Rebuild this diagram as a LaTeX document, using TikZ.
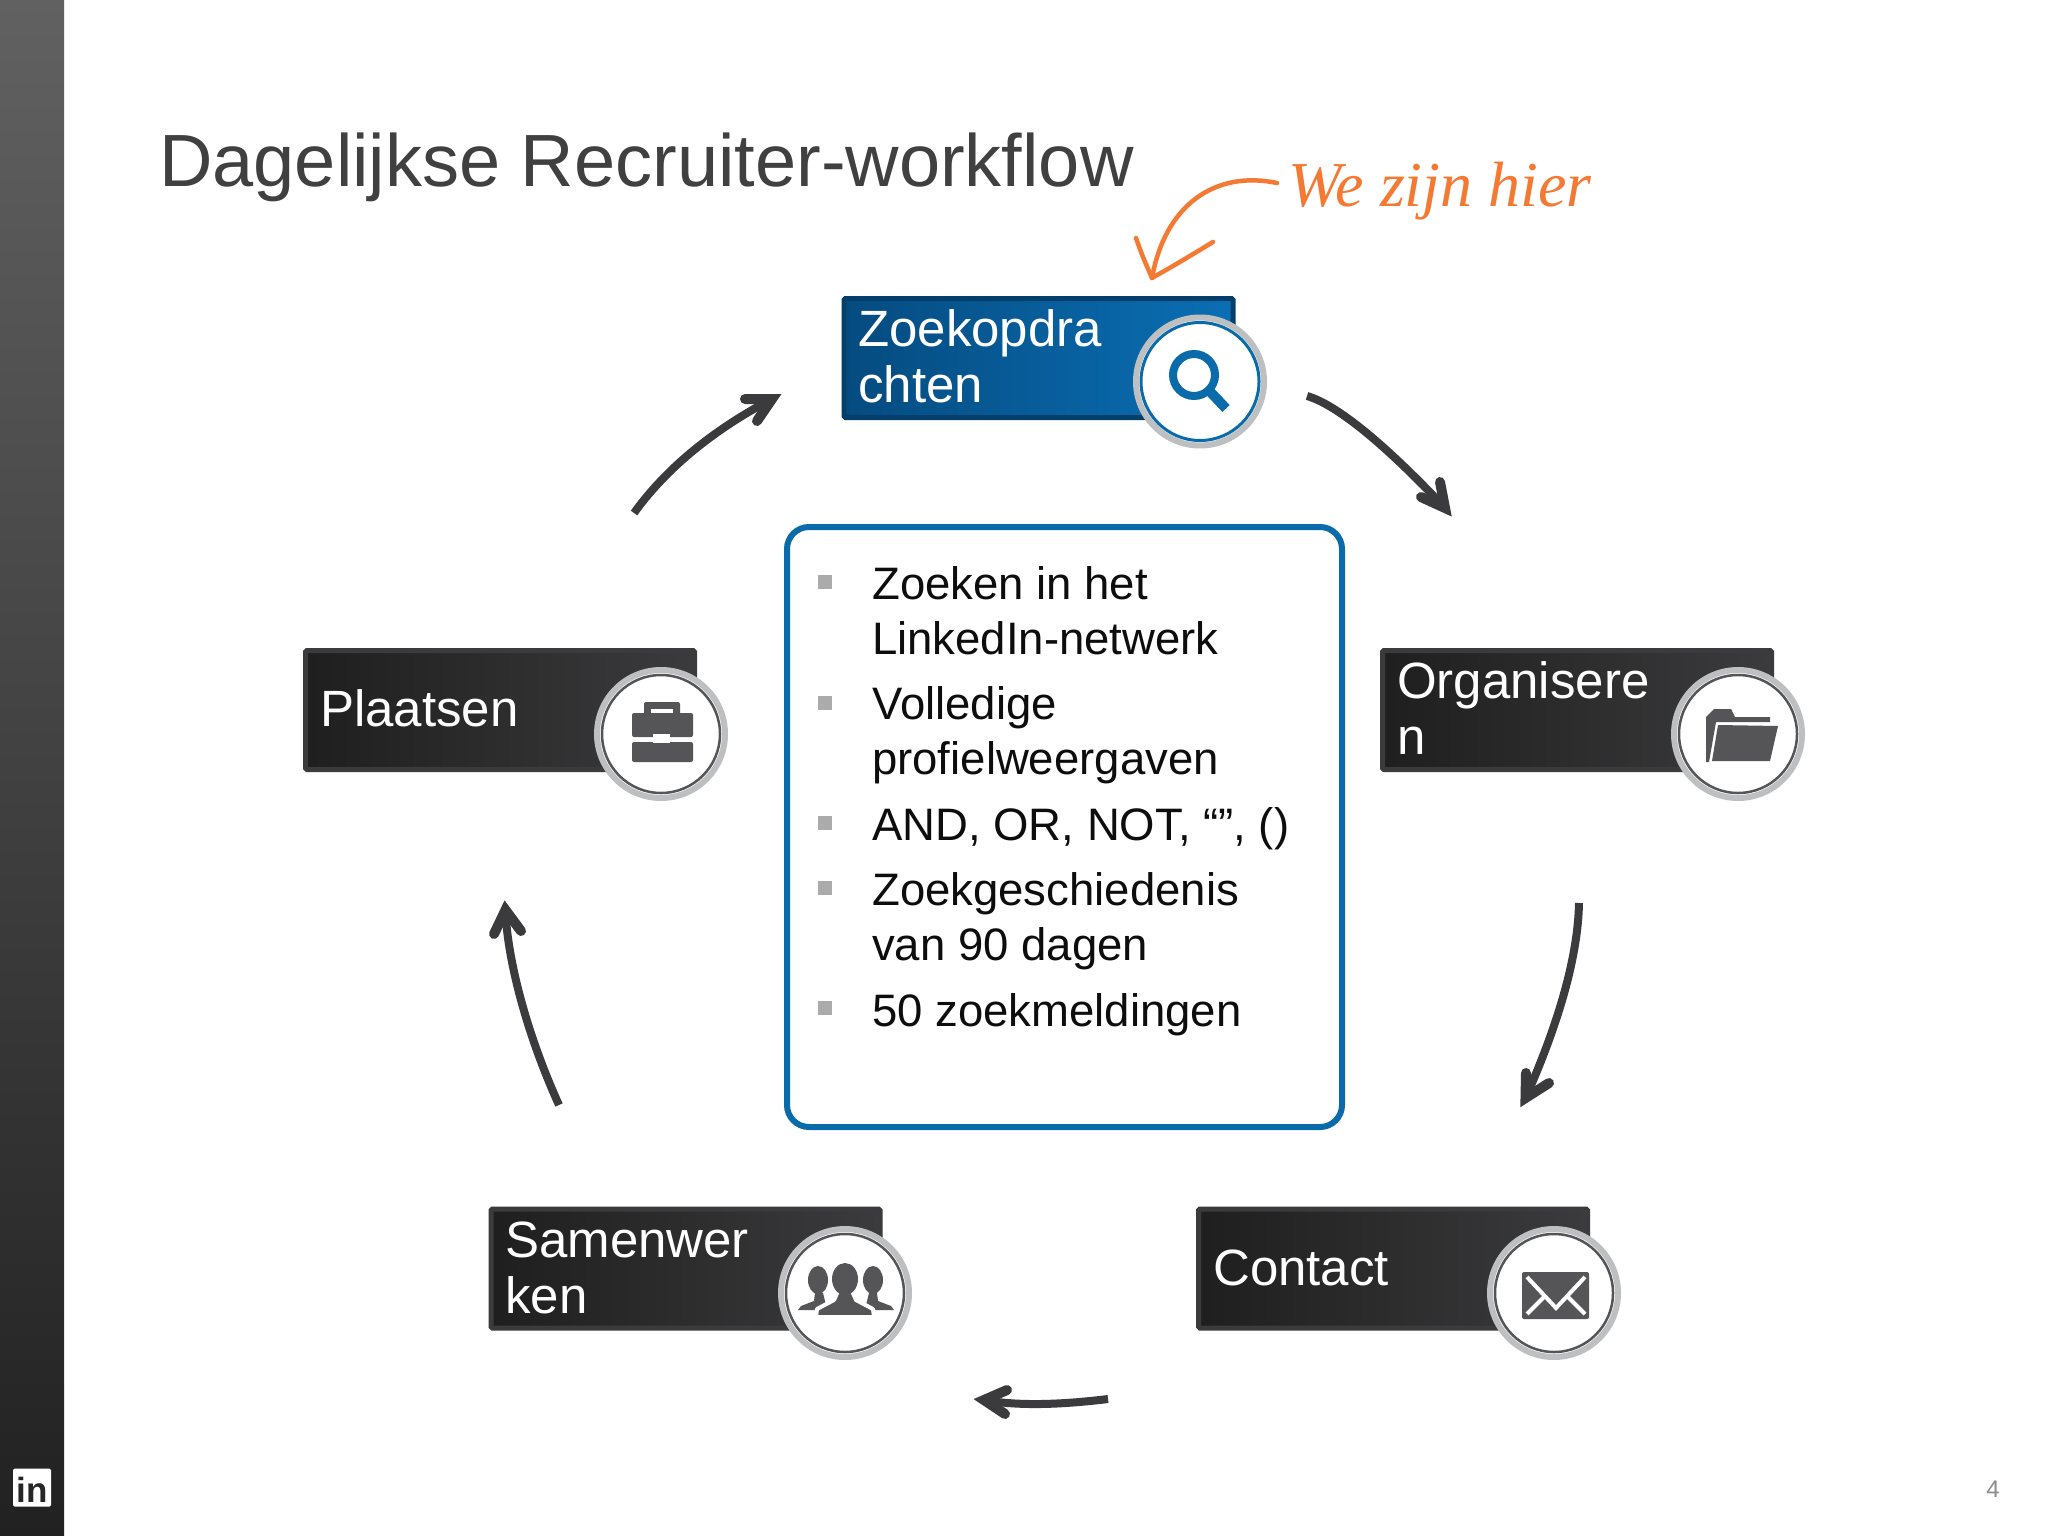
\documentclass[tikz,border=0pt]{standalone}
\usepackage{fontspec}
\setmainfont{Liberation Sans}
\newfontfamily\serifhand{Liberation Serif}
\definecolor{ink}{HTML}{3B3B3D}
\definecolor{titlegrey}{HTML}{404040}
\definecolor{iconGrey}{HTML}{555557}
\definecolor{ringGrey}{HTML}{BDBFC1}
\definecolor{liBlue}{HTML}{0A6BAA}
\definecolor{hand}{HTML}{F47A33}
\definecolor{blueEdge}{HTML}{043F6B}
\definecolor{blueLeft}{HTML}{054B80}
\definecolor{blueRight}{HTML}{0A6FB4}
\tikzset{
  darkbox/.style={rectangle,draw=ink,line width=5,rounded corners=1.5,left color=black!88,right color=ink,minimum width=389,minimum height=119,inner sep=0},
  bluebox/.style={darkbox,draw=blueEdge,left color=blueLeft,right color=blueRight},
  boxlabel/.style={anchor=base west,inner sep=0,text=white,align=left,font=\fontsize{51}{56}\selectfont},
  badge/.style={circle,draw=ringGrey,fill=white,line width=6,minimum size=128,inner sep=0},
  innerring/.style={draw=iconGrey,line width=2.5},
  itemtext/.style={anchor=base west,inner sep=0,text=black!95,align=left,font=\fontsize{45.5}{55}\selectfont},
  bulletmark/.style={rectangle,fill=black!33,minimum size=14,inner sep=0},
  flowline/.style={draw=ink,line width=8},
  flowhead/.style={draw=ink,line width=10,line cap=round,line join=miter,miter limit=10},
  handline/.style={draw=hand,line width=4.5,line cap=round,line join=round},
}
\begin{document}
\begin{tikzpicture}[x=1pt,y=-1pt]
\useasboundingbox (0,0) rectangle (2048,1536);
\fill[white] (0,0) rectangle (2048,1536);
% sidebar
\path[top color=black!62,middle color=black!82,bottom color=black!87] (0,0) rectangle (64,1536);
\node[rectangle,fill=white,rounded corners=1.5,minimum size=38,inner sep=0] (logo) at (32,1487.5) {};
\node[anchor=base,inner sep=0,text=black!85,font=\fontsize{35}{35}\selectfont\bfseries] (logotext) at (32.5,1502) {in};
% title
\node[anchor=base west,inner sep=0,text=titlegrey,font=\fontsize{74}{74}\selectfont] (title) at (159,186) {Dagelijkse Recruiter-workflow};
\node[anchor=base west,inner sep=0,text=hand,font=\serifhand\itshape\fontsize{64}{64}\selectfont] (here) at (1288,206) {We zijn hier};
% hand arrow
\coordinate (hs) at (1277,183);
\coordinate (ht) at (1152,278);
\coordinate (hb1) at (1136,238);
\coordinate (hb2) at (1213,242);
\draw[handline] (hs) .. controls (1215,170) and (1165,205) .. (ht);
\draw[handline] (hb1) .. controls (1142,255) .. (ht) .. controls (1180,262) .. (hb2);
% boxes
\node[bluebox] (zoek) at (1038.5,358) {};
\node[darkbox] (plaats) at (500,710) {};
\node[darkbox] (org) at (1577,710) {};
\node[darkbox] (samen) at (685.5,1268.5) {};
\node[darkbox] (cont) at (1393,1268.5) {};
\node[boxlabel] (zoekt) at (858,402) {Zoekopdra\\chten};
\node[boxlabel] (plaatst) at (320,726) {Plaatsen};
\node[boxlabel] (orgt) at (1397,754) {Organisere\\n};
\node[boxlabel] (sament) at (505,1313) {Samenwer\\ken};
\node[boxlabel] (contt) at (1213,1285) {Contact};
% badges
\node[badge] (c1) at (1200,381.5) {};
\node[badge] (c2) at (661,734) {};
\node[badge] (c3) at (1738,734) {};
\node[badge] (c4) at (845,1293) {};
\node[badge] (c5) at (1554,1293) {};
\draw[innerring,draw=liBlue,line width=3] (c1.center) circle[radius=59];
\foreach \c in {c2,c3,c4,c5}{\draw[innerring] (\c.center) circle[radius=59];}
% magnifier
\begin{scope}[shift={(c1.center)}]
\draw[liBlue,line width=8] (-6,-6.5) circle[radius=21];
\draw[liBlue,line width=10] (9,9) -- (26,27);
\end{scope}
% briefcase
\begin{scope}[shift={(c2.center)}]
\fill[iconGrey,rounded corners=2] (-17,-17) rectangle (19,-32);
\fill[white] (-10,-17) rectangle (12,-25);
\fill[iconGrey,rounded corners=2] (-29,-21) rectangle (32,3);
\fill[iconGrey,rounded corners=2] (-29,8) rectangle (32,28);
\fill[white] (-8,0) rectangle (9,9);
\end{scope}
% folder
\begin{scope}[shift={(c3.center)}]
\fill[iconGrey] (-32,28) -- (-32,-17) -- (-24,-25) -- (-7,-25) -- (-3,-17) -- (32,-17) -- (32,-12) -- (-22,-12) -- (-29,28) -- cycle;
\fill[iconGrey] (-20,-9) -- (40,-8) -- (32,27) -- (-26,27) -- cycle;
\end{scope}
% people
\begin{scope}[shift={(c4.center)}]
\fill[iconGrey] (-27,-13) ellipse[x radius=10,y radius=14];
\fill[iconGrey] (-47,17) -- (-44,13) -- (-31,8) -- (-30,0) -- (-22,0) -- (-18,16) -- (-30,17) -- cycle;
\fill[iconGrey] (28,-13) ellipse[x radius=10,y radius=14];
\fill[iconGrey] (49,17) -- (46,13) -- (33,8) -- (32,0) -- (24,0) -- (20,16) -- (30,17) -- cycle;
\draw[white,line width=4,fill=iconGrey] (0,-14) ellipse[x radius=14,y radius=17];
\draw[white,line width=4,fill=iconGrey,line join=round] (-29,24) -- (-28,16) -- (-11,7) -- (-7,-2) -- (7,-2) -- (11,7) -- (28,16) -- (29,24) -- cycle;
\fill[iconGrey] (0,-14) ellipse[x radius=13,y radius=16];
\end{scope}
% envelope
\begin{scope}[shift={(c5.center)}]
\fill[iconGrey,rounded corners=2] (-32,-21) rectangle (35,26);
\draw[white,line width=4,line join=miter] (-27,-16) -- (2,15) -- (31,-16);
\draw[white,line width=4] (-27,21) -- (-9,3);
\draw[white,line width=4] (31,21) -- (13,3);
\end{scope}
% centre panel
\node[rectangle,draw=liBlue,fill=white,line width=6,rounded corners=22,minimum width=555,minimum height=600,inner sep=0] (panel) at (1064.5,827) {};
\node[bulletmark] (b1) at (825,582) {};
\node[bulletmark] (b2) at (825,703) {};
\node[bulletmark] (b3) at (825,823) {};
\node[bulletmark] (b4) at (825,888) {};
\node[bulletmark] (b5) at (825,1008) {};
\node[itemtext] (i1) at (872,654) {Zoeken in het\\LinkedIn-netwerk};
\node[itemtext] (i2) at (872,774) {Volledige\\profielweergaven};
\node[itemtext] (i3) at (872,840) {AND, OR, NOT, “”, ()};
\node[itemtext] (i4) at (872,960) {Zoekgeschiedenis\\van 90 dagen};
\node[itemtext] (i5) at (872,1026) {50 zoekmeldingen};
% flow arrows
\coordinate (a1s) at (1307,396); \coordinate (a1v) at (1445,508); \coordinate (a1p) at (1440,482); \coordinate (a1q) at (1421,497);
\coordinate (a2s) at (1579,903); \coordinate (a2v) at (1525.5,1098); \coordinate (a2p) at (1526,1073); \coordinate (a2q) at (1549,1083);
\coordinate (a3s) at (1108,1399); \coordinate (a3v) at (984,1400); \coordinate (a3p) at (1007,1390); \coordinate (a3q) at (1005,1414);
\coordinate (a4s) at (559,1105); \coordinate (a4v) at (505.5,910); \coordinate (a4p) at (494,934); \coordinate (a4q) at (521,931);
\coordinate (a5s) at (634,513); \coordinate (a5v) at (772,399); \coordinate (a5p) at (745,399); \coordinate (a5q) at (757,421);
\draw[flowline] (a1s) .. controls (1335,404) and (1382,441) .. (a1v);
\draw[flowline] (a2s) .. controls (1578,954) and (1560.5,1019) .. (a2v);
\draw[flowline] (a3s) .. controls (1059,1405) and (1017,1406) .. (a3v);
\draw[flowline] (a4s) .. controls (525,1030) and (507,956) .. (a4v);
\draw[flowline] (a5s) .. controls (665,470) and (711,431) .. (a5v);
\foreach \a in {a1,a2,a3,a4,a5}{\draw[flowhead] (\a p) -- (\a v) -- (\a q);}
\node[anchor=base,inner sep=0,text=black!45,font=\fontsize{24}{24}\selectfont] (pageno) at (1993,1497) {4};
\end{tikzpicture}
\end{document}
